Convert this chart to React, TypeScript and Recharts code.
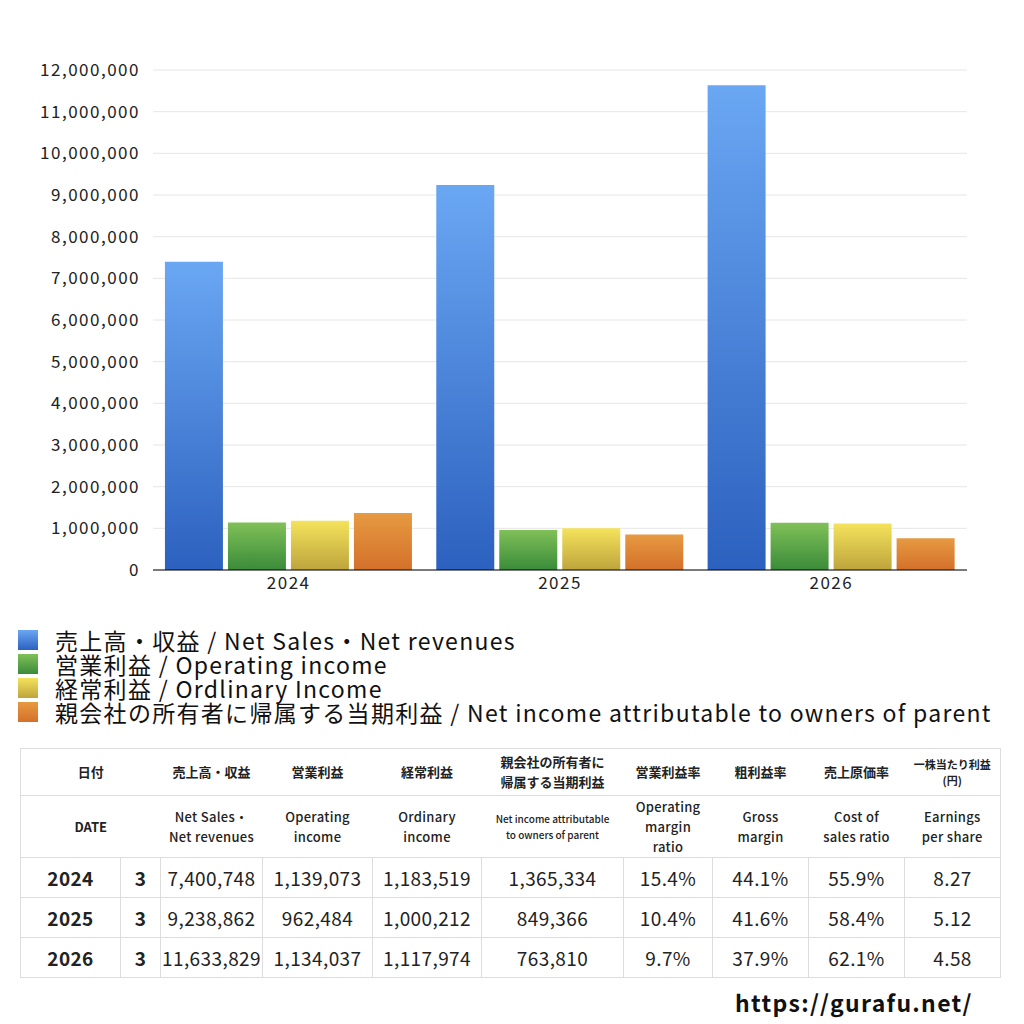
import React from "react";
import { Bar, BarChart, CartesianGrid, XAxis, YAxis } from "recharts";

const FONT = '"Noto Sans CJK JP", "Noto Sans", sans-serif';
const GRID = "#e6e6e6";
const BORDER = "#dddddd";

const years = ["2024", "2025", "2026"];
const months = ["3", "3", "3"];
const netSales = [7400748, 9238862, 11633829];
const operatingIncome = [1139073, 962484, 1134037];
const ordinaryIncome = [1183519, 1000212, 1117974];
const netIncome = [1365334, 849366, 763810];
const operatingMargin = ["15.4%", "10.4%", "9.7%"];
const grossMargin = ["44.1%", "41.6%", "37.9%"];
const costRatio = ["55.9%", "58.4%", "62.1%"];
const eps = ["8.27", "5.12", "4.58"];
const yTicks = [0, 1000000, 2000000, 3000000, 4000000, 5000000, 6000000, 7000000, 8000000, 9000000, 10000000, 11000000, 12000000];

const series = [
  { key: "sales", name: "売上高・収益 / Net Sales・Net revenues", top: "#6aa7f3", bottom: "#2c61bf" },
  { key: "op", name: "営業利益 / Operating income", top: "#80c058", bottom: "#3a8b3a" },
  { key: "ord", name: "経常利益 / Ordlinary Income", top: "#f4e35c", bottom: "#bea43c" },
  { key: "net", name: "親会社の所有者に帰属する当期利益 / Net income attributable to owners of parent", top: "#e69a42", bottom: "#d4702a" },
];

const data = years.map((y, i) => ({
  year: y,
  sales: netSales[i],
  op: operatingIncome[i],
  ord: ordinaryIncome[i],
  net: netIncome[i],
}));

const fmt = (v: number) => v.toLocaleString("en-US");

const colWidths = [100, 40, 102, 110, 109, 142, 89, 96, 96, 96];

const headJa = ["売上高・収益", "営業利益", "経常利益", "親会社の所有者に\n帰属する当期利益", "営業利益率", "粗利益率", "売上原価率"];
const headEn = [
  "Net Sales・\nNet revenues",
  "Operating\nincome",
  "Ordinary\nincome",
  "",
  "Operating\nmargin\nratio",
  "Gross\nmargin",
  "Cost of\nsales ratio",
  "Earnings\nper share",
];

const hCell: React.CSSProperties = {
  textAlign: "center",
  fontWeight: 700,
  fontSize: 13,
  color: "#222",
  whiteSpace: "pre-line",
  lineHeight: "20px",
  padding: 0,
};

const dCell: React.CSSProperties = {
  textAlign: "center",
  fontSize: 19,
  color: "#222",
  border: `1px solid ${BORDER}`,
  padding: 0,
  height: 39,
  letterSpacing: 0.4,
  whiteSpace: "nowrap",
};

function DataTable() {
  return (
    <table
      style={{
        position: "absolute",
        left: 20,
        top: 748,
        width: 980,
        borderCollapse: "collapse",
        tableLayout: "fixed",
        fontFamily: FONT,
        borderLeft: `1px solid ${BORDER}`,
        borderRight: `1px solid ${BORDER}`,
      }}
    >
      <colgroup>
        {colWidths.map((w, i) => (
          <col key={i} style={{ width: w }} />
        ))}
      </colgroup>
      <tbody>
        <tr style={{ height: 47, borderTop: `1px solid ${BORDER}`, borderBottom: `1px solid ${BORDER}` }}>
          <td colSpan={2} style={hCell}>日付</td>
          {headJa.map((h, i) => (
            <td key={i} style={hCell}>{h}</td>
          ))}
          <td style={{ ...hCell, fontSize: 11, lineHeight: "16px" }}>{"一株当たり利益\n(円)"}</td>
        </tr>
        <tr style={{ height: 62, borderBottom: `1px solid ${BORDER}` }}>
          <td colSpan={2} style={{ ...hCell, fontWeight: 600 }}>DATE</td>
          {headEn.map((h, i) =>
            i === 3 ? (
              <td key={i} style={{ ...hCell, fontWeight: 500, fontSize: 10, lineHeight: "16px" }}>
                {"Net income attributable\nto owners of parent"}
              </td>
            ) : (
              <td key={i} style={{ ...hCell, fontWeight: 500, letterSpacing: 0.3 }}>{h}</td>
            )
          )}
        </tr>
        {years.map((y, i) => (
          <tr key={y}>
            <td style={{ ...dCell, fontWeight: 700 }}>{y}</td>
            <td style={{ ...dCell, fontWeight: 700 }}>{months[i]}</td>
            <td style={dCell}>{fmt(netSales[i])}</td>
            <td style={dCell}>{fmt(operatingIncome[i])}</td>
            <td style={dCell}>{fmt(ordinaryIncome[i])}</td>
            <td style={dCell}>{fmt(netIncome[i])}</td>
            <td style={dCell}>{operatingMargin[i]}</td>
            <td style={dCell}>{grossMargin[i]}</td>
            <td style={dCell}>{costRatio[i]}</td>
            <td style={dCell}>{eps[i]}</td>
          </tr>
        ))}
      </tbody>
    </table>
  );
}

function LegendBlock() {
  return (
    <div style={{ position: "absolute", left: 18, top: 628, fontFamily: FONT }}>
      {series.map((s) => (
        <div key={s.key} style={{ display: "flex", alignItems: "center", height: 24 }}>
          <div
            style={{
              width: 20,
              height: 20,
              marginRight: 17,
              background: `linear-gradient(${s.top}, ${s.bottom})`,
            }}
          />
          <div
            style={{
              fontSize: 23,
              color: "#111",
              whiteSpace: "nowrap",
              lineHeight: "24px",
              height: 24,
              letterSpacing: 1.3,
            }}
          >
            {s.name}
          </div>
        </div>
      ))}
    </div>
  );
}

export default function App() {
  return (
    <div style={{ position: "absolute", left: 0, top: 0, width: 1024, height: 1024, background: "#fff", fontFamily: FONT }}>
      <BarChart
        width={1024}
        height={600}
        data={data}
        margin={{ top: 70, right: 57, left: 0, bottom: 0 }}
        barCategoryGap="4.4%"
        barGap={5}
      >
        <defs>
          {series.map((s) => (
            <linearGradient key={s.key} id={`g-${s.key}`} x1="0" y1="0" x2="0" y2="1">
              <stop offset="0%" stopColor={s.top} />
              <stop offset="100%" stopColor={s.bottom} />
            </linearGradient>
          ))}
        </defs>
        <CartesianGrid stroke={GRID} vertical={false} />
        <XAxis
          dataKey="year"
          height={30}
          tickLine={false}
          tickSize={0}
          tickMargin={7}
          axisLine={{ stroke: "#000" }}
          tick={{ fill: "#222", fontSize: 17, fontFamily: FONT, letterSpacing: 1.5 }}
        />
        <YAxis
          width={153}
          domain={[0, 12000000]}
          ticks={yTicks}
          interval={0}
          tickLine={false}
          axisLine={false}
          tickSize={0}
          tickMargin={13}
          tick={{ fill: "#222", fontSize: 17, fontFamily: FONT, letterSpacing: 1.5 }}
          tickFormatter={fmt}
        />
        {series.map((s) => (
          <Bar key={s.key} dataKey={s.key} name={s.name} fill={`url(#g-${s.key})`} isAnimationActive={false} />
        ))}
      </BarChart>
      <LegendBlock />
      <DataTable />
      <div
        style={{
          position: "absolute",
          left: 735,
          top: 985,
          fontSize: 23,
          fontWeight: 700,
          color: "#111",
          fontFamily: FONT,
          letterSpacing: 1.3,
        }}
      >
        https://gurafu.net/
      </div>
    </div>
  );
}
